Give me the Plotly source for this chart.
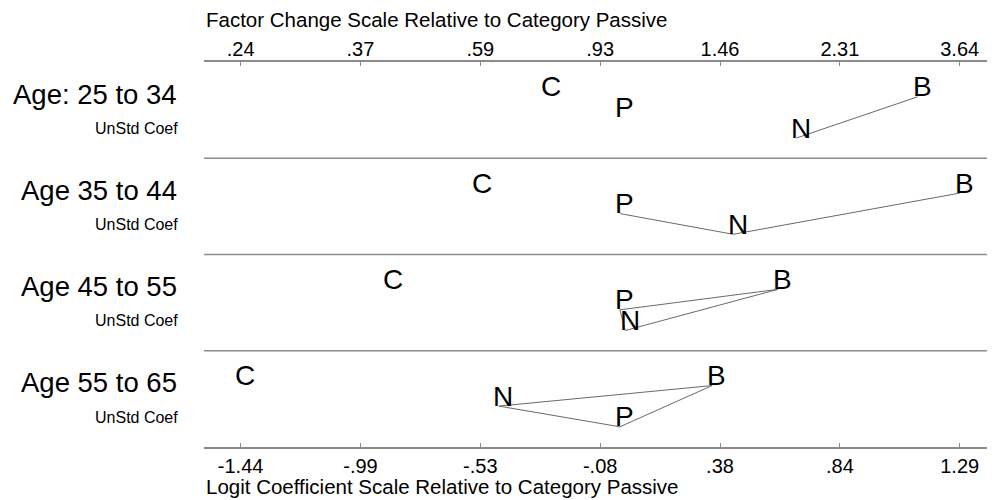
import plotly.graph_objects as go

# ---------------- data ----------------
panel_labels = ["Age: 25 to 34", "Age 35 to 44", "Age 45 to 55", "Age 55 to 65"]
sub_label = "UnStd Coef"
letters = ["C", "P", "N", "B"]

coef_C = [-0.28, -0.54, -0.88, -1.44]
coef_P = [0.0, 0.0, 0.0, 0.0]
coef_N = [0.67, 0.43, 0.02, -0.46]
coef_B = [1.13, 1.29, 0.60, 0.35]

# vertical stacking level of each letter within its panel (1 = top)
level_C = [1, 1, 1, 1]
level_P = [2, 2, 2, 3]
level_N = [3, 3, 3, 2]
level_B = [1, 1, 1, 1]

# pairs connected by a line (not significantly different)
links = [
    [("N", "B")],
    [("P", "N"), ("N", "B")],
    [("P", "N"), ("P", "B"), ("N", "B")],
    [("N", "B"), ("N", "P"), ("P", "B")],
]

logit_ticks = [-1.44, -0.985, -0.53, -0.075, 0.38, 0.835, 1.29]
logit_ticktext = ["-1.44", "-.99", "-.53", "-.08", ".38", ".84", "1.29"]
factor_ticktext = [".24", ".37", ".59", ".93", "1.46", "2.31", "3.64"]

top_title = "Factor Change Scale Relative to Category Passive"
bottom_title = "Logit Coefficient Scale Relative to Category Passive"

# ---------------- layout constants ----------------
FONT = "Liberation Sans, Arial, sans-serif"
# page body adds an 8px margin, so the figure is offset by 8px inside the window
W, H = 987, 492
ML, MR, MT, MB = 196, 0, 53.7, 53.3
NP = len(panel_labels)
LEVEL_OFF = {1: 0.362, 2: 0.575, 3: 0.79}
GRAY = "#8c8c8c"
LINE = "#6a6a6a"

coefs = {"C": coef_C, "P": coef_P, "N": coef_N, "B": coef_B}
levels = {"C": level_C, "P": level_P, "N": level_N, "B": level_B}


def ypos(letter, i):
    top = NP - i
    return top - LEVEL_OFF[levels[letter][i]]


fig = go.Figure()

# connecting lines
for i in range(NP):
    xs, ys = [], []
    for a, b in links[i]:
        xs += [coefs[a][i], coefs[b][i], None]
        ys += [ypos(a, i), ypos(b, i), None]
    fig.add_trace(go.Scatter(x=xs, y=ys, mode="lines",
                             line=dict(color=LINE, width=1),
                             hoverinfo="skip", showlegend=False))

# invisible trace for top axis
fig.add_trace(go.Scatter(x=[logit_ticks[0], logit_ticks[-1]], y=[0, 0], xaxis="x2",
                         mode="markers", marker=dict(opacity=0), showlegend=False,
                         hoverinfo="skip"))

annotations = []
for i in range(NP):
    for L in letters:
        annotations.append(dict(x=coefs[L][i], y=ypos(L, i), xref="x", yref="y",
                                text=L, showarrow=False, xanchor="center", yanchor="middle",
                                xshift=4.5, yshift=10,
                                font=dict(family=FONT, size=28, color="black")))
    top = NP - i
    annotations.append(dict(x=0, y=top - 0.335, xref="paper", yref="y",
                            text=panel_labels[i], showarrow=False, xanchor="right",
                            yanchor="middle", xshift=-25,
                            font=dict(family=FONT, size=27.5, color="black")))
    annotations.append(dict(x=0, y=top - 0.69, xref="paper", yref="y",
                            text=sub_label, showarrow=False, xanchor="right",
                            yanchor="middle", xshift=-24,
                            font=dict(family=FONT, size=16, color="black")))

annotations.append(dict(x=0, y=1, xref="paper", yref="paper", text=top_title,
                        showarrow=False, xanchor="left", yanchor="bottom", yshift=28.5,
                        font=dict(family=FONT, size=20.5, color="black")))
annotations.append(dict(x=0, y=0, xref="paper", yref="paper", text=bottom_title,
                        showarrow=False, xanchor="left", yanchor="top", yshift=-25.5,
                        font=dict(family=FONT, size=20.5, color="black")))

shapes = []
for k in range(1, NP):
    shapes.append(dict(type="line", xref="paper", yref="y", x0=0, x1=1, y0=k, y1=k,
                       line=dict(color=GRAY, width=1.5)))

xrange = [-1.579, 1.424]
axis_common = dict(range=xrange, tickvals=logit_ticks, ticks="inside", ticklen=4,
                   tickcolor=GRAY, tickwidth=1, showline=True, linecolor=GRAY,
                   linewidth=1.5, showgrid=False, zeroline=False,
                   tickfont=dict(family=FONT, size=20, color="black"))

fig.update_layout(
    width=W, height=H,
    margin=dict(l=ML, r=MR, t=MT, b=MB),
    paper_bgcolor="white", plot_bgcolor="white",
    xaxis=dict(ticktext=logit_ticktext, side="bottom", **axis_common),
    xaxis2=dict(ticktext=factor_ticktext, side="top", overlaying="x",
                ticklabelstandoff=-4, **axis_common),
    yaxis=dict(range=[0, NP], visible=False, fixedrange=True),
    annotations=annotations,
    shapes=shapes,
    showlegend=False,
)

fig.write_html("out.html")
